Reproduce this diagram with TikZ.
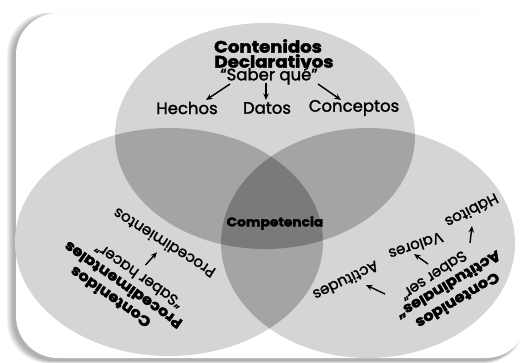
\documentclass[tikz,border=0pt]{standalone}
\usepackage{fontspec}
\setmainfont{Poppins}[UprightFeatures={FakeBold=1.6},BoldFeatures={FakeBold=2.6,FakeStretch=1.1}]
\usetikzlibrary{arrows.meta}
\definecolor{cOne}{RGB}{213,213,213}
\definecolor{cTwo}{RGB}{164,164,164}
\definecolor{cThree}{RGB}{122,122,122}
\tikzset{
  ttxt/.style={font=\fontsize{16.5}{18}\selectfont, inner sep=0pt},
  tbld/.style={font=\fontsize{16.5}{18}\selectfont\bfseries, inner sep=0pt},
  stxt/.style={font=\fontsize{15}{17}\selectfont, inner sep=0pt},
  sbld/.style={font=\fontsize{14.5}{17}\selectfont\bfseries, inner sep=0pt},
  arr/.style={line width=1.4pt, -{Stealth[length=6.5pt,width=5.5pt]}},
  card/.style={rounded corners=42pt}
}
\begin{document}
\begin{tikzpicture}[x=1pt,y=-1pt]
\useasboundingbox (0,0) rectangle (530,362);
% shadow of the card
\foreach \d in {0,1,...,6}{
  \fill[black,opacity=0.05,rounded corners=42pt] (16-3-\d,13+2-\d*0.4) rectangle (528-4+\d*0.2,358+3+\d*0.4);
}
\fill[white,card] (16,13) rectangle (528,358);
% ellipses
\def\elTop{(265,136) ellipse [x radius=150, y radius=113]}
\def\elLft{(169,242) ellipse [x radius=154, y radius=114]}
\def\elRgt{(368,243) ellipse [x radius=147, y radius=115]}
\fill[cOne] \elTop;
\fill[cOne] \elLft;
\fill[cOne] \elRgt;
\begin{scope}\clip \elTop; \fill[cTwo] \elLft; \fill[cTwo] \elRgt; \end{scope}
\begin{scope}\clip \elLft; \fill[cTwo] \elRgt; \end{scope}
\begin{scope}\clip \elTop; \clip \elLft; \fill[cThree] \elRgt; \end{scope}
% top block
\node[tbld] (dtit1) at (268,46) {Contenidos};
\node[tbld] (dtit2) at (274,61) {Declarativos};
\node[ttxt] (dsab) at (269,76) {“Saber qué”};
\node[ttxt] (hechos) at (187,108) {Hechos};
\node[ttxt] (datos) at (267,108) {Datos};
\node[ttxt] (concep) at (354,108) {Conceptos};
\coordinate (h1) at (230,84); \coordinate (h2) at (206,100);
\coordinate (d1) at (266,83); \coordinate (d2) at (266,100);
\coordinate (c1) at (318,84); \coordinate (c2) at (341,100);
\draw[arr] (h1) -- (h2);
\draw[arr] (d1) -- (d2);
\draw[arr] (c1) -- (c2);
% centre
\node[font=\fontsize{12.5}{14}\selectfont\bfseries, inner sep=0pt] (comp) at (275,223) {Competencia};
% left block
\begin{scope}[shift={(110,297.5)}, rotate=145, transform shape]
  \node[sbld] (ptit1) at (0,0) {Contenidos};
  \node[sbld] (ptit2) at (-3.5,17) {Procedimentales};
  \node[stxt] (psab) at (-11,34) {“Saber hacer”};
  \coordinate (p1) at (-10.5,47); \coordinate (p2) at (-12.5,64);
  \node[stxt, rotate=3] (proc) at (-13,75.5) {Procedimientos};
\end{scope}
\draw[arr] (p1) -- (p2);
% right block
\begin{scope}[shift={(458,301)}, rotate=211, transform shape]
  \node[sbld] (atit1) at (0,0) {Contenidos};
  \node[sbld] (atit2) at (0,18) {Actitudinales“};
  \node[stxt, rotate=3] (asab) at (8,34) {Saber ser”};
\end{scope}
\node[stxt, rotate=207] (habit) at (472,211) {Hábitos};
\node[stxt, rotate=199] (valor) at (416,246) {Valores};
\node[stxt, rotate=206] (actit) at (346,281) {Actitudes};
\coordinate (x1) at (470,243); \coordinate (x2) at (472,226);
\coordinate (v1) at (428,264); \coordinate (v2) at (414,254);
\coordinate (t1) at (385,294); \coordinate (t2) at (366,285);
\draw[arr] (x1) -- (x2);
\draw[arr] (v1) -- (v2);
\draw[arr] (t1) -- (t2);
\end{tikzpicture}
\end{document}
